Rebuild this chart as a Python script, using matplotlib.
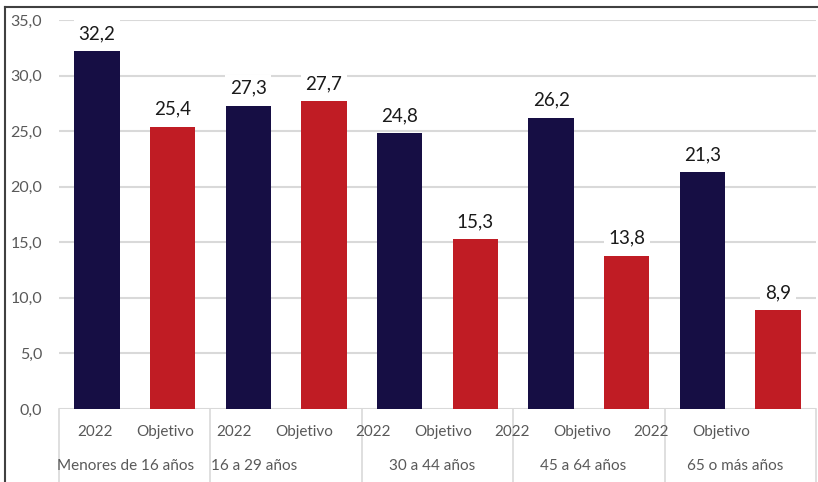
import matplotlib
matplotlib.use("Agg")
import matplotlib.pyplot as plt
import matplotlib.transforms as mtransforms
from matplotlib.lines import Line2D
import numpy as np

groups = ["Menores de 16 años", "16 a 29 años", "30 a 44 años", "45 a 64 años", "65 o más años"]
series_names = ["2022", "Objetivo"]
values_2022 = [32.2, 27.3, 24.8, 26.2, 21.3]
values_obj = [25.4, 27.7, 15.3, 13.8, 8.9]
y_ticks = [0, 5, 10, 15, 20, 25, 30, 35]

NAVY = "#160E44"
RED = "#C01C24"
GRID = "#D9D9D9"
TEXT = "#595959"

plt.rcParams["font.family"] = ["Lato", "DejaVu Sans"]

fig = plt.figure(figsize=(8.18, 4.82), dpi=100)
ax = fig.add_axes([59 / 818, 1 - 409 / 482, (816 - 59) / 818, (409 - 20) / 482])

n = len(groups)
x_2022 = np.arange(n) * 2
x_obj = x_2022 + 1
width = 0.6

bars_a = ax.bar(x_2022, values_2022, width=width, color=NAVY, zorder=2)
bars_b = ax.bar(x_obj, values_obj, width=width, color=RED, zorder=2)

for bars in (bars_a, bars_b):
    for b in bars:
        h = b.get_height()
        ax.annotate(f"{h:.1f}".replace(".", ","), (b.get_x() + b.get_width() / 2, h),
                    xytext=(0, 6.5), textcoords="offset points", ha="center", va="bottom",
                    fontsize=13.5, color="#1a1a1a", zorder=3,
                    bbox=dict(boxstyle="square,pad=0.25", fc="white", ec="none"))

ax.set_xlim(-0.5, 2 * n - 0.5)
ax.set_ylim(0, 35)
ax.set_yticks(y_ticks)
ax.set_yticklabels([f"{v:.1f}".replace(".", ",") for v in y_ticks])
ax.tick_params(axis="y", length=0, pad=12, labelsize=11.5, labelcolor=TEXT)
ax.set_xticks([])
ax.grid(axis="y", color=GRID, lw=1.5, zorder=0)
for s in ax.spines.values():
    s.set_visible(False)
ax.axhline(0, color=GRID, lw=1.2, zorder=1)

trans = mtransforms.blended_transform_factory(ax.transData, ax.transAxes)

# category labels (Excel squeezes them to the left)
step = 69.5 / 75.7
for k in range(2 * n):
    ax.text(-0.02 + k * step, -0.059, series_names[k % 2], transform=trans,
            ha="center", va="center", fontsize=11, color=TEXT)

# group labels
group_centers_px = [126, 254, 432, 583, 735]
for g, cx in zip(groups, group_centers_px):
    xd = (cx - 59) / 75.7 - 0.5
    ax.text(xd, -0.146, g, transform=trans, ha="center", va="center",
            fontsize=11, color=TEXT)

# group separators
for xs in np.arange(-0.5, 2 * n, 2):
    ax.plot([xs, xs], [0, -0.2], transform=trans, color=GRID, lw=1.2, clip_on=False)

# outer frame (top and left edges)
fig.add_artist(Line2D([5 / 818, 1], [1 - 7 / 482, 1 - 7 / 482], transform=fig.transFigure,
                      color="#404040", lw=1.5))
fig.add_artist(Line2D([5 / 818, 5 / 818], [0, 1 - 7 / 482], transform=fig.transFigure,
                      color="#404040", lw=1.5))

fig.savefig("out.png", dpi=100)
